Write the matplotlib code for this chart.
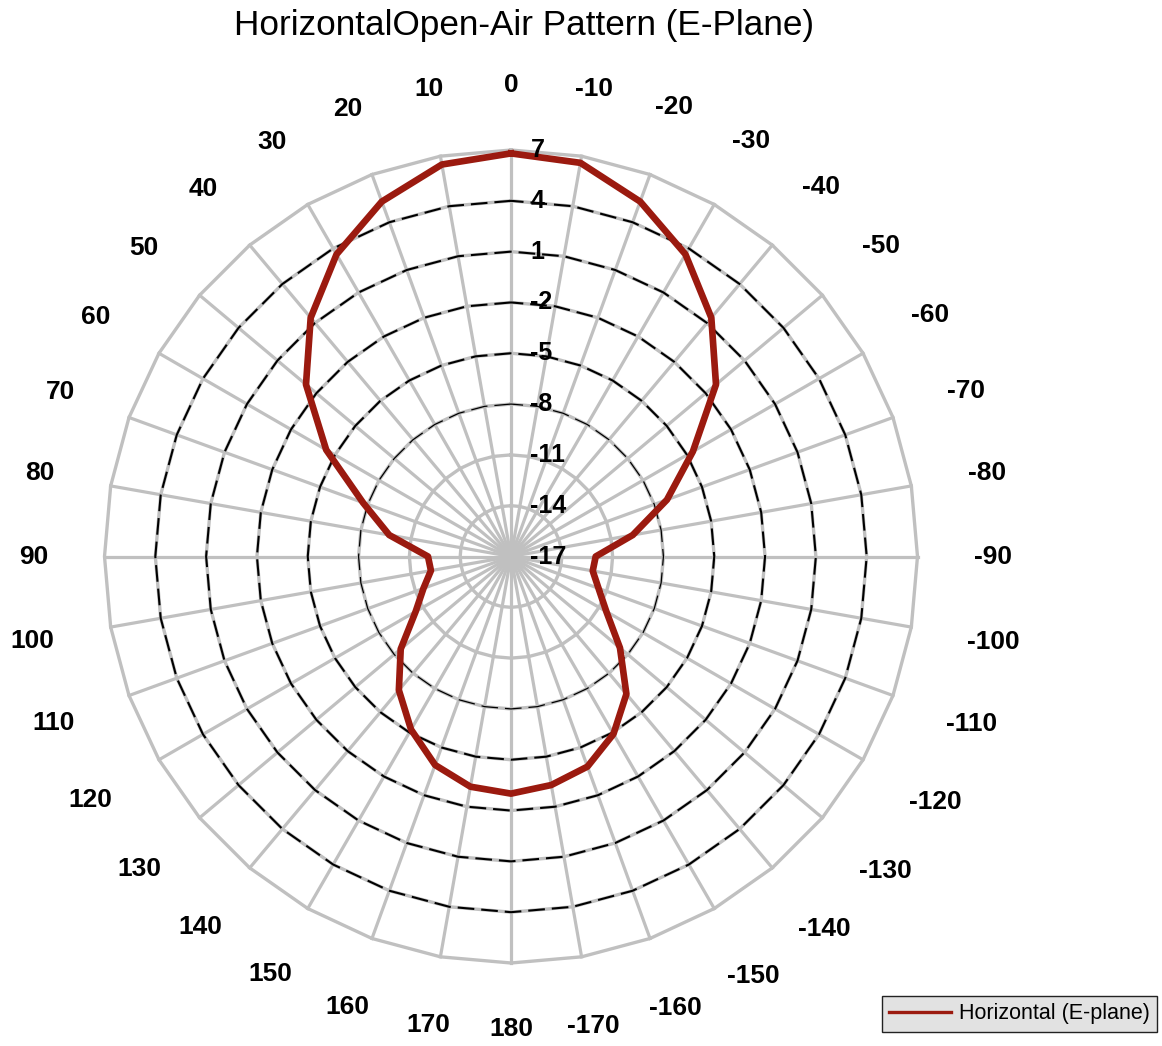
import numpy as np
import matplotlib
matplotlib.use("Agg")
import matplotlib.pyplot as plt
from matplotlib.lines import Line2D

plt.rcParams['font.family'] = ['Liberation Sans', 'DejaVu Sans']
plt.rcParams['lines.scale_dashes'] = False

# angle (deg) of each spoke, going counter-clockwise from the top
angles = [0, 10, 20, 30, 40, 50, 60, 70, 80, 90, 100, 110, 120, 130, 140, 150, 160, 170, 180,
          -170, -160, -150, -140, -130, -120, -110, -100, -90, -80, -70, -60, -50, -40, -30, -20, -10]
angle_labels = [str(a) for a in angles]

# measured gain (dB) in the horizontal / E-plane
gain = [6.8, 6.5, 5.3, 3.6, 1.4, -1.2, -4.4, -7.7, -9.7, -12.1, -12.2, -11.5, -10.5, -8.5, -6.7, -5.2, -3.9, -3.2, -3.0,
        -3.3, -3.8, -4.9, -6.4, -8.6, -10.5, -11.5, -12.1, -12.0, -9.7, -7.2, -4.6, -1.2, 1.4, 3.6, 5.3, 6.6]

rings = [7, 4, 1, -2, -5, -8, -11, -14, -17]
dashed_rings = [4, 1, -2, -5, -8]
r_min, r_max = -17, 7

grid_col = '#c0c0c0'
red = '#9b1a0f'

fig = plt.figure(figsize=(11.62, 10.46), dpi=100)
W, H = 1162, 1046
cx, cy, R = 511, 556.5, 406.5
ax = fig.add_axes([(cx - R) / W, (H - cy - R) / H, 2 * R / W, 2 * R / H], projection='polar')
ax.set_theta_zero_location('N')
ax.set_theta_direction(1)
ax.set_ylim(r_min, r_max)
ax.axis('off')

theta = np.deg2rad(angles)
th_closed = np.append(theta, theta[0])

# spokes
for t in theta:
    ax.plot([t, t], [r_min, r_max], color=grid_col, lw=2.3, clip_on=False, zorder=1)

# polygon rings
for v in rings[:-1]:
    ax.plot(th_closed, [v] * len(th_closed), color=grid_col, lw=2.4, clip_on=False, zorder=1)
for v in dashed_rings:
    lw = 1.5 if v > -8 else 0.9
    ax.plot(th_closed, [v] * len(th_closed), color='black', lw=lw, ls=(0, (12, 5)),
            clip_on=False, zorder=2)

# pattern
ax.plot(th_closed, np.append(gain, gain[0]), color=red, lw=4.8, solid_joinstyle='round',
        clip_on=False, zorder=5)

# radial labels
for v in rings:
    ax.annotate(str(v), xy=(0, v), xytext=(14, 0), textcoords='offset points',
                ha='left', va='center', fontsize=18, fontweight='bold', zorder=6,
                annotation_clip=False)

# angle labels around the outside
em = 26.4
for a, lbl in zip(angles, angle_labels):
    rad = np.deg2rad(a)
    ux, uy = -np.sin(rad), np.cos(rad)
    w = sum(0.333 * em if ch == '-' else 0.556 * em for ch in lbl)
    h = 19.0
    d = 56 + 0.5 * (w * abs(ux) + h * abs(uy))
    ax.annotate(lbl, xy=(rad, r_max), xytext=(d * ux * 0.72, d * uy * 0.72),
                textcoords='offset points', ha='center', va='center',
                fontsize=19, fontweight='bold', annotation_clip=False)

fig.text(523.5 / W, 1 - 25 / H, 'HorizontalOpen-Air Pattern (E-Plane)',
         ha='center', va='center', fontsize=25.3)

proxy = Line2D([], [], color=red, lw=2.4)
leg = fig.legend(handles=[proxy], labels=['Horizontal (E-plane)'], loc='lower right',
                 bbox_to_anchor=(1157 / W, (H - 1032) / H), borderaxespad=0,
                 fontsize=15.5, handlelength=2.9, handletextpad=0.33, borderpad=0.35,
                 fancybox=False, framealpha=1, facecolor='#e2e2e2', edgecolor='#222222')
leg.get_frame().set_linewidth(1.0)

fig.savefig('out.png', dpi=100)
